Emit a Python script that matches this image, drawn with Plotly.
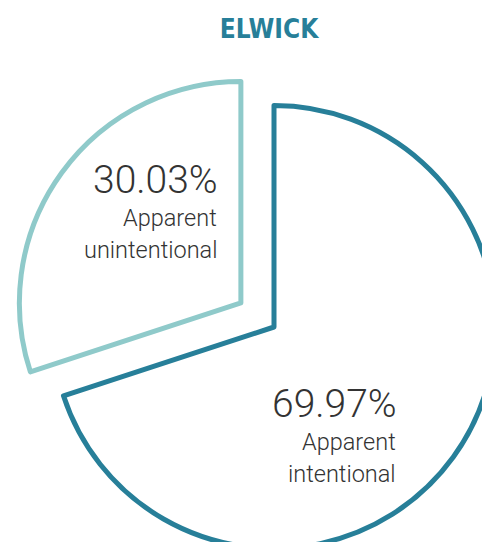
import plotly.graph_objects as go

# ---- data ----
labels = ["Apparent intentional", "Apparent unintentional"]
values = [69.97, 30.03]
label_lines = [["Apparent", "intentional"], ["Apparent", "unintentional"]]
pulls = [0, 0.1847]
colors = ["#277f99", "#8fcaca"]
title_text = "ELWICK"

# ---- canvas (pixels) ----
W, H = 560, 600
cx, cy = 274.0, 327.0      # pie centre
radius = 221.5
half_box = radius * (1 + max(pulls))   # half size of the pie domain box

def px_x(x):
    return x / W

def px_y(y):
    return 1 - y / H

fig = go.Figure(
    go.Pie(
        labels=labels,
        values=values,
        sort=False,
        direction="clockwise",
        rotation=0,
        pull=pulls,
        textinfo="none",
        hoverinfo="skip",
        showlegend=False,
        marker=dict(colors=["white", "white"], line=dict(color=colors, width=5)),
        domain=dict(
            x=[px_x(cx - half_box), px_x(cx + half_box)],
            y=[px_y(cy + half_box), px_y(cy - half_box)],
        ),
    )
)

# label blocks: (right edge x, percent middle y, line middle ys)
blocks = [
    (397.5, 404, [442, 473.5]),
    (218.5, 180, [218, 250]),
]
text_color = "#333333"
annotations = []
for i, (rx, py, lys) in enumerate(blocks):
    annotations.append(dict(
        text=f"{values[i]:.2f}%", x=px_x(rx + 1), y=px_y(py),
        xref="paper", yref="paper", xanchor="right", yanchor="middle",
        showarrow=False, font=dict(family="Roboto", size=39, color=text_color, weight=300),
    ))
    for line, ly in zip(label_lines[i], lys):
        annotations.append(dict(
            text=line, x=px_x(rx), y=px_y(ly),
            xref="paper", yref="paper", xanchor="right", yanchor="middle",
            showarrow=False, font=dict(family="Roboto", size=23.5, color=text_color, weight=300),
        ))

fig.update_layout(
    width=W,
    height=H,
    margin=dict(l=0, r=0, t=0, b=0),
    paper_bgcolor="white",
    plot_bgcolor="white",
    title=dict(
        text=title_text,
        x=px_x(269), xref="paper", xanchor="center",
        y=px_y(29), yref="container", yanchor="middle",
        font=dict(family="Liberation Sans Narrow, DejaVu Sans Condensed, Roboto, sans-serif",
                  size=26, color="#277f99", weight="bold"),
    ),
    annotations=annotations,
)

fig.write_html(
    "out.html",
    post_script="document.documentElement.style.overflow='hidden';document.body.style.overflow='hidden';",
)
